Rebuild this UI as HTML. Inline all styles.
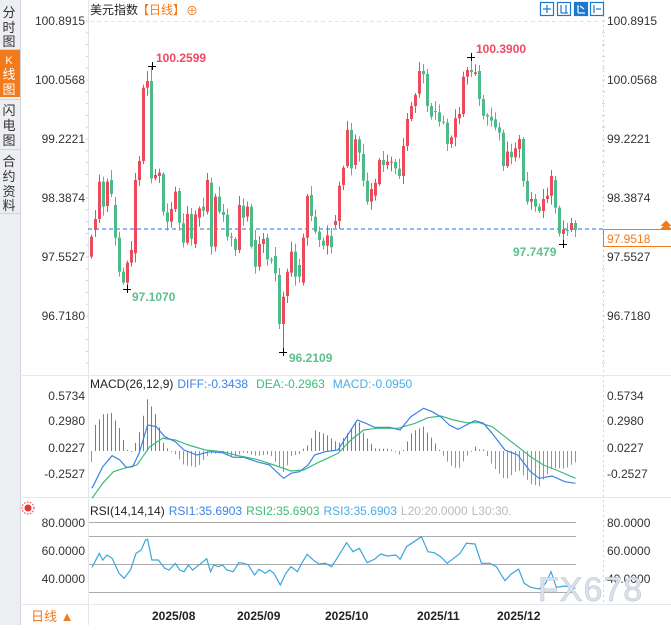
<!DOCTYPE html>
<html><head><meta charset="utf-8"><style>
body{margin:0;width:671px;height:625px;overflow:hidden;background:#fff;font-family:"Liberation Sans","Noto Sans CJK SC",sans-serif;}
svg text{font-family:"Liberation Sans","Noto Sans CJK SC",sans-serif;}
</style></head><body>
<svg id="s" width="671" height="625" xmlns="http://www.w3.org/2000/svg">
<rect x="0" y="0" width="671" height="625" fill="#fff"/>
<rect x="0" y="0" width="20" height="625" fill="#eceef2"/>
<line x1="20.5" y1="0" x2="20.5" y2="625" stroke="#cfd3da"/>
<rect x="0" y="50" width="20" height="47" fill="#f27a1a"/>
<line x1="0" y1="49.5" x2="20" y2="49.5" stroke="#cfd3da"/>
<line x1="0" y1="99.5" x2="20" y2="99.5" stroke="#cfd3da"/>
<line x1="0" y1="149.5" x2="20" y2="149.5" stroke="#cfd3da"/>
<line x1="0" y1="213.5" x2="20" y2="213.5" stroke="#cfd3da"/>
<g font-size="13" fill="#333" text-anchor="middle">
<text x="9" y="17">分</text><text x="9" y="32">时</text><text x="9" y="46">图</text>
<text x="9" y="64" fill="#fff" font-size="11">K</text><text x="9" y="79" fill="#fff">线</text><text x="9" y="94" fill="#fff">图</text>
<text x="9" y="115">闪</text><text x="9" y="130">电</text><text x="9" y="145">图</text>
<text x="9" y="166">合</text><text x="9" y="181">约</text><text x="9" y="196">资</text><text x="9" y="210">料</text>
</g>
<line x1="88.5" y1="0" x2="88.5" y2="625" stroke="#e3e6ea"/>
<line x1="603.5" y1="0" x2="603.5" y2="604" stroke="#d0d4da" stroke-dasharray="2,3"/>
<line x1="20" y1="375.5" x2="671" y2="375.5" stroke="#e6e8ec"/>
<line x1="20" y1="497.5" x2="671" y2="497.5" stroke="#e6e8ec"/>
<line x1="20" y1="604.5" x2="671" y2="604.5" stroke="#e6e8ec"/>
<line x1="90" y1="21.5" x2="600" y2="21.5" stroke="#e2e2e2" stroke-dasharray="4,3"/>
<g id="ticks" stroke="#cdd3da"></g>
<text x="90" y="14" font-size="12" fill="#222">美元指数</text>
<text x="137" y="14" font-size="12" fill="#f27a1a">【日线】</text>
<text x="186" y="15" font-size="12" fill="#f27a1a">⊕</text>
<g fill="#fff" stroke="#1a78d0" stroke-width="1.2">
<rect x="540.5" y="2.5" width="13" height="13"/><rect x="557.5" y="2.5" width="13" height="13"/>
<rect x="574.5" y="2.5" width="13" height="13" fill="#1a78d0"/><rect x="590.5" y="2.5" width="13" height="13"/>
</g>
<g stroke="#1a78d0" stroke-width="1.2"><line x1="547" y1="5" x2="547" y2="13"/><line x1="543" y1="9" x2="551" y2="9"/>
<line x1="561" y1="5" x2="561" y2="13"/><line x1="566" y1="5" x2="566" y2="13"/><line x1="561" y1="13" x2="568" y2="13"/>
<line x1="594" y1="5" x2="594" y2="13"/><line x1="596" y1="9" x2="601" y2="9"/></g>
<g stroke="#fff" stroke-width="1.2"><line x1="578" y1="5" x2="578" y2="13"/><line x1="578" y1="13" x2="585" y2="13"/><line x1="580" y1="6" x2="584" y2="9"/></g>
<g font-size="12" fill="#333">
<g text-anchor="end">
<text x="85" y="25">100.8915</text><text x="85" y="84">100.0568</text><text x="85" y="143">99.2221</text>
<text x="85" y="202">98.3874</text><text x="85" y="261">97.5527</text><text x="85" y="320">96.7180</text>
<text x="85" y="400">0.5734</text><text x="85" y="425">0.2980</text><text x="85" y="452">0.0227</text><text x="85" y="478">-0.2527</text>
<text x="85" y="527">80.0000</text><text x="85" y="555">60.0000</text><text x="85" y="583">40.0000</text>
</g>
<text x="607" y="25">100.8915</text><text x="607" y="84">100.0568</text><text x="607" y="143">99.2221</text>
<text x="607" y="202">98.3874</text><text x="607" y="261">97.5527</text><text x="607" y="320">96.7180</text>
<text x="607" y="400">0.5734</text><text x="607" y="425">0.2980</text><text x="607" y="452">0.0227</text><text x="607" y="478">-0.2527</text>
<text x="607" y="527">80.0000</text><text x="607" y="555">60.0000</text><text x="607" y="583">40.0000</text>
</g>
<line x1="88" y1="229" x2="603" y2="229" stroke="#1a73e8" stroke-dasharray="4,3"/>
<g id="candles"></g>
<g stroke="#000" stroke-width="1">
<line x1="148" y1="66.5" x2="156" y2="66.5"/><line x1="152.5" y1="62" x2="152.5" y2="70"/>
<line x1="123" y1="289.5" x2="131" y2="289.5"/><line x1="127.5" y1="285" x2="127.5" y2="293"/>
<line x1="279" y1="352.5" x2="287" y2="352.5"/><line x1="283.5" y1="348" x2="283.5" y2="356"/>
<line x1="467" y1="57.5" x2="475" y2="57.5"/><line x1="471.5" y1="53" x2="471.5" y2="61"/>
<line x1="559" y1="244.5" x2="567" y2="244.5"/><line x1="563.5" y1="240" x2="563.5" y2="248"/>
</g>
<g font-size="12" font-weight="bold">
<text x="156" y="62" fill="#ec4a63">100.2599</text>
<text x="476" y="53" fill="#ec4a63">100.3900</text>
<text x="132" y="301" fill="#5cbf8c">97.1070</text>
<text x="289" y="362" fill="#5cbf8c">96.2109</text>
<text x="513" y="256" fill="#5cbf8c">97.7479</text>
</g>
<rect x="603.5" y="229.5" width="70" height="17" fill="#fff" stroke="#f27a1a"/>
<text x="607" y="243" font-size="12" fill="#f27a1a">97.9518</text>
<path d="M661 229 L666 224 L671 229 Z M661 226 L666 221 L671 226" fill="#f27a1a" stroke="#f27a1a" stroke-width="0.8"/>
<text x="90" y="388" font-size="12"><tspan fill="#222">MACD(26,12,9)</tspan><tspan fill="#3b82e6" dx="4">DIFF:-0.3438</tspan><tspan fill="#3dbb7a" dx="8">DEA:-0.2963</tspan><tspan fill="#45aee8" dx="8">MACD:-0.0950</tspan></text>
<g id="macd"></g>
<circle cx="28" cy="508" r="3.5" fill="#e33"/><circle cx="28" cy="508" r="6" fill="none" stroke="#e33" stroke-dasharray="1.5,1.5"/>
<text x="90" y="515" font-size="12"><tspan fill="#222">RSI(14,14,14)</tspan><tspan fill="#3b82e6" dx="4">RSI1:35.6903</tspan><tspan fill="#3dbb7a" dx="4">RSI2:35.6903</tspan><tspan fill="#45aee8" dx="4">RSI3:35.6903</tspan><tspan fill="#bbb" dx="4">L20:20.0000</tspan><tspan fill="#bbb" dx="4">L30:30.</tspan></text>
<g stroke="#aaa" stroke-width="1">
<line x1="89" y1="522.5" x2="576" y2="522.5"/><line x1="89" y1="536.5" x2="576" y2="536.5"/>
<line x1="89" y1="564.5" x2="576" y2="564.5"/><line x1="89" y1="592.5" x2="576" y2="592.5"/>
</g>
<g id="rsi"></g>
<text x="538" y="601" font-size="34" fill="#dbe3ec" stroke="#b8c3cf" stroke-width="0.6" letter-spacing="1">FX678</text>
<g font-size="12" font-weight="bold" fill="#222">
<text x="152" y="620">2025/08</text><text x="237" y="620">2025/09</text><text x="325" y="620">2025/10</text>
<text x="417" y="620">2025/11</text><text x="497" y="620">2025/12</text>
</g>
<text x="31" y="621" font-size="13" fill="#f27a1a">日线 ▲</text>
</svg>
<script>
var NS="http://www.w3.org/2000/svg";
function el(p,t,a){var e=document.createElementNS(NS,t);for(var k in a)e.setAttribute(k,a[k]);p.appendChild(e);return e;}
var tg=document.getElementById('ticks');
for(var y=21;y<370;y+=11.8){el(tg,'line',{x1:86,y1:y,x2:89,y2:y});el(tg,'line',{x1:602,y1:y,x2:605,y2:y});}
var C=[['r',560,620],['r',507,540],['r',395,507],['g',395,470],['r',395,468],['g',390,432],['g',465,563],['g',563,665],['g',665,698],['r',638,698],
['r',600,638],['r',390,610],['r',333,390],['r',113,333],['r',93,113],['g',93,385],['r',375,385],['r',368,378],['g',372,485],['g',487,515],
['r',477,515],['r',425,477],['g',423,518],['g',520,578],['r',492,578],['g',492,566],['r',493,582],['r',475,503],['g',470,482],['r',390,485],
['g',398,590],['r',440,590],['g',440,485],['g',486,495],['g',494,560],['g',560,563],['g',567,600],['r',465,600],['g',467,503],['r',470,500],
['g',470,590],['g',570,650],['r',582,650],['r',567,582],['g',563,628],['g',628,632],['g',618,670],['g',675,822],['r',740,822],['r',665,738],
['r',605,668],['g',605,680],['g',645,680],['r',563,698],['r',438,563],['g',435,498],['g',500,545],['g',545,570],['g',572,587],['r',556,587],
['g',558,592],['r',513,525],['r',407,513],['r',353,405],
['r',240,348],['g',240,355],['r',268,345],['g',268,308],['g',312,392],['g',392,455],['r',417,455],['r',398,437],['r',330,402],['g',330,345],
['r',335,345],['r',335,337],['g',336,355],['g',356,378],['r',288,378],['r',207,288],['r',168,207],['r',135,168],['r',63,131],['g',63,73],
['g',72,168],['g',168,200],['g',183,186],['g',187,215],['g',215,218],['g',218,282],['r',262,282],['r',205,262],['r',192,205],['r',80,192],
['r',60,80],['g',60,66],['r',67,72],['g',63,147],['g',147,197],['g',195,200],['g',200,212],['g',208,232],['g',232,248],['g',248,348],
['r',305,348],['g',305,322],['r',295,322],['r',267,297],['g',267,393],['g',393,455],['r',447,455],['g',447,470],['g',470,483],['r',447,483],
['r',437,447],['r',378,437],['g',390,473],['g',473,550],['r',538,552],['g',540,543],['r',519,540],['g',519,540]];
var cg=document.getElementById('candles');
var special={9:[null,289],15:[66,null],48:[null,352],95:[57,null],118:[null,244]};
for(var i=0;i<C.length;i++){
 var c=C[i],x=91+i*4,t=50+c[1]/3,b=50+c[2]/3;
 var col=c[0]=='r'?'#ee4a5c':'#4dbb87';
 var wt=t-(2+(i*7)%9),wb=b+(2+(i*5)%8);
 if(special[i]){if(special[i][0]!=null)wt=special[i][0];if(special[i][1]!=null)wb=special[i][1];}
 el(cg,'line',{x1:x+0.5,y1:wt,x2:x+0.5,y2:wb,stroke:col,'stroke-width':1});
 el(cg,'rect',{x:x-1,y:t,width:3,height:Math.max(1,b-t),fill:col});
}
function conv(a){return a.map(function(p){return [p[0]/2.337,370+p[1]/3];});}
function interp(pts,x){for(var i=0;i<pts.length-1;i++){if(x>=pts[i][0]&&x<=pts[i+1][0]){var f=(x-pts[i][0])/(pts[i+1][0]-pts[i][0]);return pts[i][1]+f*(pts[i+1][1]-pts[i][1]);}}return pts[pts.length-1][1];}
var DIFF=conv([[215,355],[240,290],[262,257],[280,270],[295,292],[310,290],[325,250],[345,165],[365,170],[385,200],[410,215],[430,240],[460,255],[490,245],[520,248],[545,262],[570,262],[600,275],[630,285],[650,310],[663,325],[680,310],[700,305],[720,285],[735,255],[760,245],[790,240],[810,200],[835,150],[855,160],[875,172],[910,172],[935,180],[960,140],[990,115],[1010,125],[1030,140],[1050,165],[1070,178],[1090,165],[1110,152],[1130,160],[1150,190],[1180,240],[1210,255],[1240,305],[1260,325],[1290,318],[1320,335],[1345,340]]);
var DEA=conv([[215,385],[240,340],[265,305],[290,295],[320,285],[350,230],[380,205],[410,210],[440,225],[480,240],[520,245],[560,258],[600,268],[640,285],[680,303],[710,300],[740,280],[790,250],[820,210],[850,180],[880,175],[930,175],[970,160],[1000,143],[1030,138],[1060,150],[1090,158],[1120,158],[1150,170],[1180,200],[1210,230],[1240,260],[1270,285],[1300,300],[1345,325]]);
var mg=document.getElementById('macd');
var base=451;
for(var i=0;i<122;i++){var x=91+i*4;var h=2.2*(interp(DEA,x)-interp(DIFF,x));
 if(Math.abs(h)<1)h=h<0?-1:1;
 el(mg,'line',{x1:x+0.5,y1:base,x2:x+0.5,y2:base-h,stroke:h>0?'#ee4a5c':'#4dbb87','stroke-width':1});}
function pl(p,pts,col){el(p,'polyline',{points:pts.map(function(q){return q[0].toFixed(1)+','+q[1].toFixed(1);}).join(' '),fill:'none',stroke:col,'stroke-width':1.2});}
pl(mg,DEA,'#3dbb7a');pl(mg,DIFF,'#3b82e6');
var RSI=conv([[215,592],[232,550],[240,570],[250,555],[262,565],[278,610],[290,625],[305,600],[318,550],[330,540],[340,510],[345,508],[355,570],[370,570],[385,595],[395,600],[410,580],[420,600],[430,605],[440,585],[450,600],[460,590],[470,580],[483,566],[492,605],[500,585],[510,590],[520,585],[530,600],[545,605],[558,578],[570,580],[580,585],[595,615],[605,598],[620,610],[630,600],[640,610],[655,645],[668,610],[680,590],[695,605],[705,580],[718,553],[730,568],[745,582],[760,580],[775,590],[790,560],[810,518],[825,545],[840,535],[858,578],[875,568],[890,552],[905,558],[925,555],[935,568],[950,530],[985,500],[1000,545],[1015,548],[1030,560],[1045,580],[1060,565],[1075,550],[1090,520],[1110,522],[1125,580],[1145,580],[1160,590],[1180,632],[1195,612],[1212,597],[1225,640],[1240,652],[1260,657],[1275,640],[1288,605],[1300,652],[1320,648],[1345,655]]);
pl(document.getElementById('rsi'),RSI,'#3aa6dc');
</script>
</body></html>
